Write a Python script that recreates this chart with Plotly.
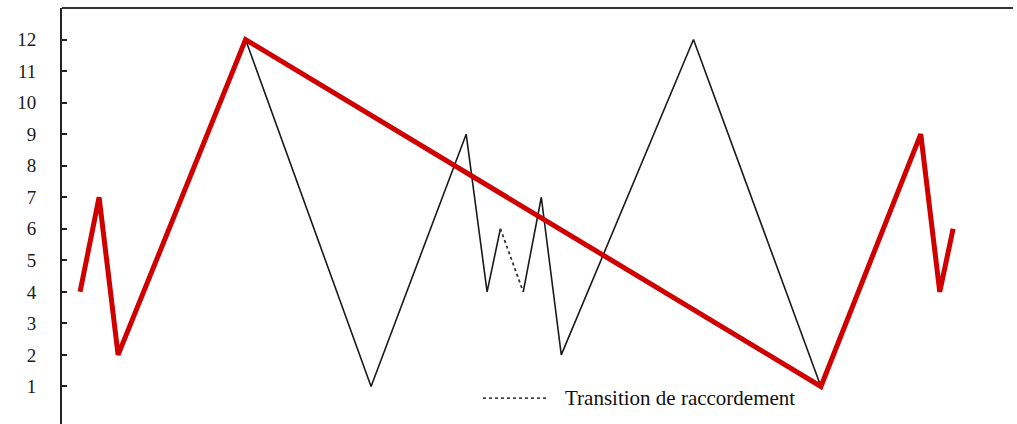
import plotly.graph_objects as go

# Load sequence (time, level) and its extracted cycle path
red_t = [1.9, 3.9, 5.9, 19.3, 79.8, 90.3, 92.3, 93.7]
red_y = [4, 7, 2, 12, 1, 9, 4, 6]

black_t1 = [19.3, 32.5, 42.5, 44.7, 46.1]
black_y1 = [12, 1, 9, 4, 6]

transition_t = [46.1, 48.5]
transition_y = [6, 4]

black_t2 = [48.5, 50.4, 52.5, 66.4, 79.8]
black_y2 = [4, 7, 2, 12, 1]

y_ticks = list(range(1, 13))
legend_label = "Transition de raccordement"

serif = "Liberation Serif, Times New Roman, serif"

fig = go.Figure()
fig.add_trace(go.Scatter(x=black_t1, y=black_y1, mode="lines",
                         line=dict(color="#1a1a1a", width=1.6), showlegend=False))
fig.add_trace(go.Scatter(x=transition_t, y=transition_y, mode="lines",
                         line=dict(color="#333333", width=1.8, dash="dot"), showlegend=False))
fig.add_trace(go.Scatter(x=black_t2, y=black_y2, mode="lines",
                         line=dict(color="#1a1a1a", width=1.6), showlegend=False))
fig.add_trace(go.Scatter(x=red_t, y=red_y, mode="lines",
                         line=dict(color="#d00000", width=5), showlegend=False))

# legend sample: dotted line + label
fig.add_shape(type="line", xref="paper", yref="paper",
              x0=0.4427, x1=0.511, y0=0.062, y1=0.062,
              line=dict(color="#444444", width=1.8, dash="dot"))
fig.add_annotation(text=legend_label, xref="paper", yref="paper",
                   x=0.5268, y=0.062, xanchor="left", yanchor="middle",
                   showarrow=False, font=dict(family=serif, size=21, color="#111111"))

# top frame line
fig.add_shape(type="line", xref="paper", yref="paper",
              x0=0, x1=1, y0=1, y1=1, line=dict(color="#333333", width=2))

fig.update_layout(
    width=1017, height=424,
    margin=dict(l=62, r=4, t=8, b=0),
    paper_bgcolor="white", plot_bgcolor="white",
    xaxis=dict(range=[0, 100], visible=False, showgrid=False, zeroline=False),
    yaxis=dict(range=[-0.19, 13], tickvals=y_ticks, ticks="inside", ticklen=5,
               tickcolor="#222222", tickwidth=1.5,
               showline=True, linecolor="#222222", linewidth=2,
               showgrid=False, zeroline=False, ticklabelstandoff=20,
               tickfont=dict(family=serif, size=19, color="#1a1a1a")),
)

fig.write_html("out.html")
